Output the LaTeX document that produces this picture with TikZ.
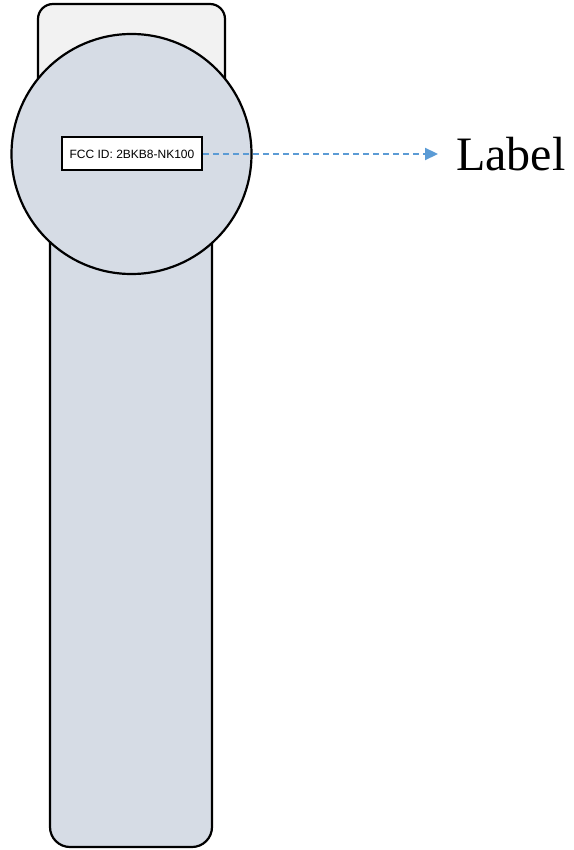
\documentclass[tikz,border=0pt]{standalone}
\usepackage{fontspec}
\setmainfont{Liberation Serif}
\newfontfamily\labelfont{Liberation Sans}
\usetikzlibrary{positioning,arrows.meta}
\definecolor{capgray}{HTML}{F2F2F2}
\definecolor{bodyblue}{HTML}{D6DCE5}
\definecolor{arrowblue}{HTML}{5B9BD5}
\tikzset{
  part/.style={draw, line width=2.2pt, inner sep=0pt},
  fccbox/.style={draw, line width=2pt, fill=white, minimum width=140pt,
    minimum height=33pt, inner sep=0pt, font=\labelfont\fontsize{12}{14}\selectfont},
  pointer/.style={arrowblue, line width=2.2pt, dash pattern=on 6pt off 4pt,
    -{Triangle[length=13pt,width=12pt]}}
}
\begin{document}
\begin{tikzpicture}[x=1pt, y=-1pt]
  \useasboundingbox (0,0) rectangle (573,850);
  % device outline
  \node[part, fill=capgray, rounded corners=15pt, minimum width=187pt,
    minimum height=200pt] (cap) at (131.5,104) {};
  \node[part, fill=bodyblue, rounded corners=20pt, minimum width=162pt,
    minimum height=667pt] (handle) at (131,513.5) {};
  \node[part, fill=bodyblue, circle, minimum size=240pt] (zoom) at (131.5,154) {};
  % label
  \node[fccbox] (fcc) at (132,154) {FCC ID: 2BKB8-NK100};
  \node[anchor=west, inner sep=0pt, font=\fontsize{48}{52}\selectfont] (lbl) at (456,154) {Label};
  \draw[pointer] (fcc.east) -- ([xshift=-18pt]lbl.west);
\end{tikzpicture}
\end{document}
